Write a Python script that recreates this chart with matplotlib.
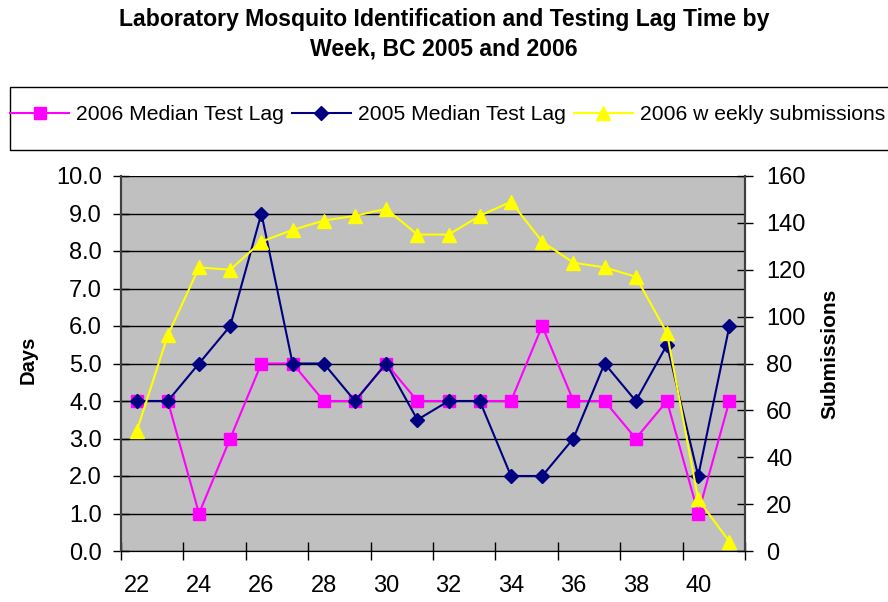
import matplotlib
matplotlib.use("Agg")
import matplotlib.pyplot as plt
from matplotlib.patches import Rectangle
import numpy as np

plt.rcParams['font.family'] = ['Liberation Sans', 'DejaVu Sans']

weeks = list(range(22, 42))
lag_2006 = [4, 4, 1, 3, 5, 5, 4, 4, 5, 4, 4, 4, 4, 6, 4, 4, 3, 4, 1, 4]
lag_2005 = [4, 4, 5, 6, 9, 5, 5, 4, 5, 3.5, 4, 4, 2, 2, 3, 5, 4, 5.5, 2, 6]
subs_2006 = [51, 92, 121, 120, 132, 137, 141, 143, 146, 135, 135, 143, 149, 132, 123, 121, 117, 93, 22, 4]
left_ticks = [0, 1, 2, 3, 4, 5, 6, 7, 8, 9, 10]
right_ticks = [0, 20, 40, 60, 80, 100, 120, 140, 160]
x_labels = [22, 24, 26, 28, 30, 32, 34, 36, 38, 40]

fig = plt.figure(figsize=(8.88, 6.02), dpi=100)
ax = fig.add_axes([121/888, 1-551/602, (745-121)/888, (551-176)/602])
ax.set_facecolor('#C0C0C0')
ax2 = ax.twinx()

l1, = ax.plot(weeks, lag_2006, color='#FF00FF', marker='s', markersize=8.5, lw=1.5,
              markerfacecolor='#FF00FF', markeredgecolor='#FF00FF', label='2006 Median Test Lag', zorder=3)
l2, = ax.plot(weeks, lag_2005, color='#000080', marker='D', markersize=7.5, lw=1.5,
              label='2005 Median Test Lag', zorder=4)
l3, = ax2.plot(weeks, subs_2006, color='#FFFF00', marker='^', markersize=10, lw=1.5,
               label='2006 w eekly submissions', zorder=3)

ax.set_xlim(21.5, 41.5)
ax.set_ylim(0, 10)
ax2.set_ylim(0, 160)
ax.set_yticks(left_ticks)
ax.set_yticklabels([f"{v:.1f}" for v in left_ticks])
ax2.set_yticks(right_ticks)
ax2.set_yticklabels([str(v) for v in right_ticks])
ax.set_xticks(np.arange(21.5, 42, 2))
ax.set_xticklabels([])
ax.set_xticks(x_labels, minor=True)
ax.set_xticklabels([str(v) for v in x_labels], minor=True)
ax.tick_params(axis='x', which='minor', length=0, pad=17, labelsize=17)
ax.tick_params(axis='x', which='major', direction='inout', length=13, width=1)
ax.tick_params(axis='y', direction='inout', length=11.5, width=1, labelsize=17, pad=8)
ax2.tick_params(axis='y', direction='inout', length=11.5, width=1, labelsize=17, pad=9.5)
ax.grid(axis='y', color='black', lw=1)
ax.set_axisbelow(True)

for a in (ax, ax2):
    a.spines['top'].set_visible(False)
    a.spines['left'].set_color('#404040')
    a.spines['left'].set_linewidth(1.5)
    a.spines['right'].set_color('#404040')
    a.spines['right'].set_linewidth(1.5)
    a.spines['bottom'].set_color('black')

ax.set_ylabel('Days', fontsize=14.5, fontweight='bold')
ax.yaxis.set_label_coords(38/888, 1-360/602, transform=fig.transFigure)
ax2.set_ylabel('Submissions', fontsize=15, fontweight='bold')
ax2.yaxis.set_label_coords(820/888, 1-354/602, transform=fig.transFigure)

fig.text(0.5, 1-34/602, 'Laboratory Mosquito Identification and Testing Lag Time by\nWeek, BC 2005 and 2006',
         ha='center', va='center', fontsize=16.6, fontweight='bold', linespacing=1.35)

fig.patches.append(Rectangle((10/888, 1-150/602), 900/888, 63/602, transform=fig.transFigure,
                             facecolor='white', edgecolor='black', lw=1, zorder=0))
fig.legend(handles=[l1, l2, l3], loc='center left', bbox_to_anchor=(10/888, 1-115/602),
           ncol=3, frameon=False, fontsize=15.2, handlelength=2.8, handletextpad=0.33,
           columnspacing=0.37, borderaxespad=0, borderpad=0)

fig.savefig('out.png', dpi=100)
